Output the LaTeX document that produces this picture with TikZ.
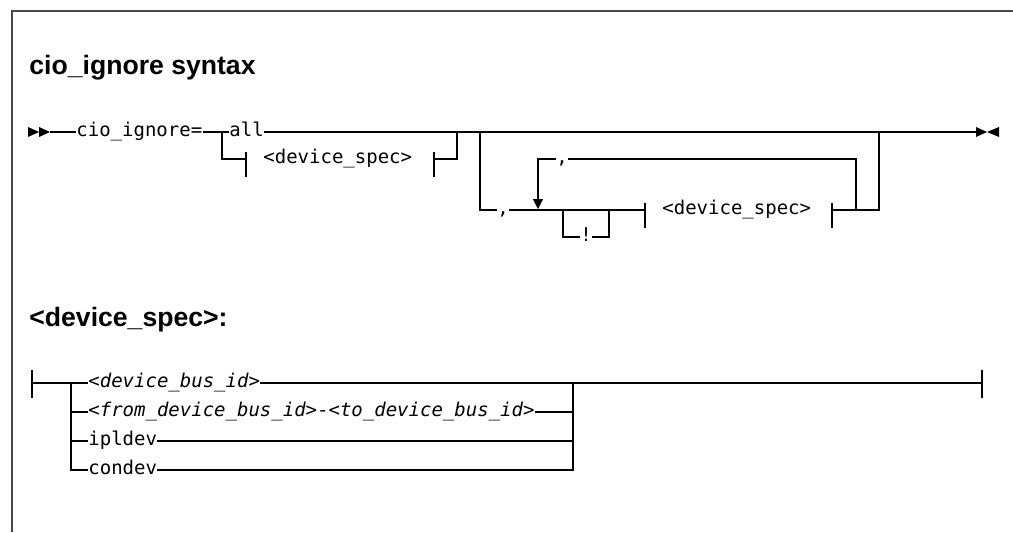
\documentclass[tikz,border=0pt]{standalone}
\usepackage{fontspec}
\usepackage{xcolor}
\usepackage{tikz}
\usetikzlibrary{arrows.meta,positioning,calc}
\newfontfamily\railfont{DejaVu Sans Mono}
\newfontfamily\headfont{Liberation Sans}
\definecolor{framegray}{RGB}{72, 72, 72}

\begin{document}
\begin{tikzpicture}[x=0.5pt, y=-0.5pt,
    rail/.style={line width=0.55pt, color=black},
    kw/.style={anchor=mid west, inner sep=0pt, font=\railfont\fontsize{9.5}{11}\selectfont},
    var/.style={kw, font=\railfont\itshape\fontsize{9.5}{11}\selectfont},
    heading/.style={anchor=base west, inner sep=0pt, font=\headfont\bfseries\fontsize{13.3}{16}\selectfont},
    stopbar/.pic={\draw[rail] (0,-7) -- (0,18);},
    endbar/.pic={\draw[rail] (0,-13) -- (0,15);}]
    \useasboundingbox (0,0) rectangle (1013,532);

    % Frame
    \draw[line width=0.7pt, color=framegray] (12,532) -- (12,11) -- (1013,11);

    % Headings
    \node[heading] (head1) at (29,74) {cio\_ignore syntax};
    \node[heading] (head2) at (29,326) {<device\_spec>:};

    % Main line
    \fill (28,127) -- (39,132) -- (28,137) -- cycle;
    \fill (39,127) -- (50,132) -- (39,137) -- cycle;
    \coordinate (start) at (50,132);
    \node[kw] (cio) at (76,132) {cio\_ignore=};
    \node[kw] (all) at (229,132) {all};
    \coordinate (j1) at (222,132);
    \coordinate (stop) at (976,132);
    \draw[rail] (start) -- (cio.mid west);
    \draw[rail] (cio.mid east) -- (all.mid west);
    \draw[rail] (all.mid east) -- (stop);
    \fill (976,127) -- (987,132) -- (976,137) -- cycle;
    \fill (999,127) -- (987,132) -- (999,137) -- cycle;

    % First choice: fragment
    \node[kw] (spec1) at (263,159) {<device\_spec>};
    \coordinate (t1a) at (246,159);
    \coordinate (t1b) at (434,159);
    \coordinate (j2) at (457,132);
    \draw[rail] (j1) |- (t1a);
    \draw[rail] (t1b) -| (j2);
    \pic at (t1a) {stopbar};
    \pic at (t1b) {stopbar};

    % Second group
    \coordinate (g2) at (480,132);
    \coordinate (g2b) at (480,210);
    \coordinate (g2e) at (879,132);
    \node[kw] (sep1) at (497,210) {,};
    \node[kw] (spec2) at (662,210) {<device\_spec>};
    \coordinate (t2a) at (645,210);
    \coordinate (t2b) at (832,210);
    \draw[rail] (g2) -- (g2b) -- (sep1.mid west);
    \draw[rail] (sep1.mid east) -- (t2a);
    \draw[rail] (t2b) -| (g2e);
    \pic at (t2a) {stopbar};
    \pic at (t2b) {stopbar};

    % Optional !
    \coordinate (x1) at (563,210);
    \coordinate (x2) at (609,210);
    \node[kw] (excl) at (580,237) {!};
    \draw[rail] (x1) |- (excl.mid west);
    \draw[rail] (excl.mid east) -| (x2);

    % Repeat loop
    \coordinate (r1) at (856,210);
    \coordinate (r2) at (538,209);
    \node[kw] (sep2) at (556,159) {,};
    \draw[rail] (r1) |- (sep2.mid east);
    \draw[rail, -{Triangle[length=5pt,width=5pt]}] (sep2.mid west) -| (r2);

    % Fragment device_spec
    \coordinate (ls) at (32,383);
    \coordinate (lr) at (71,383);
    \coordinate (rr) at (573,383);
    \coordinate (lend) at (982,383);
    \node[var] (bus) at (88,383) {<device\_bus\_id>};
    \node[var] (range) at (88,412) {<from\_device\_bus\_id>{\upshape -}<to\_device\_bus\_id>};
    \node[kw] (ipl) at (88,441) {ipldev};
    \node[kw] (con) at (88,470) {condev};
    \pic at (ls) {endbar};
    \pic at (lend) {endbar};
    \draw[rail] (ls) -- (bus.mid west);
    \draw[rail] (bus.mid east) -- (lend);
    \draw[rail] (lr) |- (con.mid west);
    \draw[rail] (lr |- range.mid west) -- (range.mid west);
    \draw[rail] (lr |- ipl.mid west) -- (ipl.mid west);
    \draw[rail] (range.mid east) -- (rr |- range.mid east);
    \draw[rail] (ipl.mid east) -- (rr |- ipl.mid east);
    \draw[rail] (con.mid east) -| (rr);
\end{tikzpicture}
\end{document}
